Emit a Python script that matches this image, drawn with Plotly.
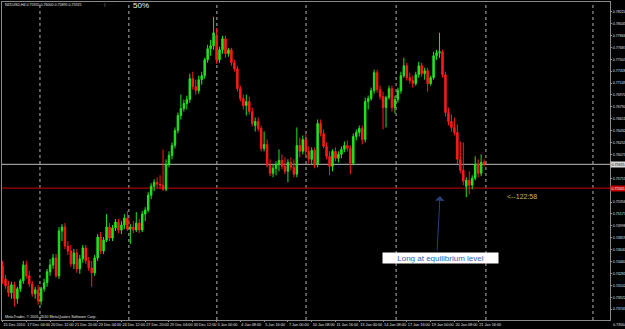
import plotly.graph_objects as go

symbol_header = "NZDUSD,H4 0.75955 0.76000 0.75895 0.75925"

opens = [0.74395,0.74200,0.74095,0.73990,0.74110,0.73900,0.74050,0.74170,0.74410,0.74245,
0.74125,0.73975,0.74035,0.73870,0.74050,0.74140,0.74305,0.74410,0.74515,0.74245,
0.74920,0.74980,0.74695,0.74620,0.74425,0.74590,0.74350,0.74500,0.74665,0.74470,
0.74365,0.74290,0.74515,0.74830,0.74620,0.74785,0.74980,0.74815,0.74965,0.75055,
0.74935,0.75010,0.75115,0.74950,0.74980,0.74935,0.75040,0.74935,0.75175,0.75235,
0.75460,0.75595,0.75655,0.75625,0.75610,0.75550,0.75925,0.76060,0.76210,0.76435,
0.76660,0.76765,0.76840,0.76900,0.77215,0.77095,0.77035,0.77200,0.77260,0.77500,
0.77665,0.77710,0.77860,0.77500,0.77650,0.77815,0.77590,0.77650,0.77455,0.77365,
0.77065,0.76915,0.76810,0.76870,0.76720,0.76510,0.76570,0.76465,0.76165,0.76225,
0.75910,0.75790,0.75865,0.75925,0.75985,0.75895,0.75820,0.75955,0.75880,0.75775,
0.76210,0.76120,0.76300,0.76120,0.76000,0.76135,0.75925,0.76540,0.76390,0.76195,
0.76045,0.75895,0.76120,0.76015,0.76075,0.76150,0.76210,0.76165,0.75940,0.76345,
0.76405,0.76465,0.76300,0.76870,0.76915,0.77035,0.77305,0.77050,0.76945,0.76780,
0.76930,0.77065,0.76780,0.76900,0.77035,0.77260,0.77410,0.77230,0.77185,0.77140,
0.77275,0.77410,0.77290,0.77335,0.77140,0.77230,0.77560,0.77605,0.77620,0.77275,
0.76705,0.76570,0.76480,0.76405,0.76000,0.75835,0.75595,0.75685,0.75610,0.75715,
0.75925,0.75790,0.75955]

highs = [0.74470,0.74260,0.74170,0.74155,0.74155,0.74080,0.74200,0.74470,0.74470,0.74320,
0.74170,0.74080,0.74110,0.74080,0.74200,0.74350,0.74500,0.74575,0.74575,0.74980,
0.75025,0.75040,0.74770,0.74710,0.74650,0.74650,0.74560,0.74710,0.74710,0.74530,
0.74470,0.74560,0.74875,0.74905,0.74830,0.75175,0.75040,0.75010,0.75100,0.75100,
0.75070,0.75175,0.75220,0.75025,0.75070,0.75205,0.75100,0.75220,0.75280,0.75505,
0.75640,0.75700,0.75730,0.75760,0.76150,0.76000,0.76120,0.76255,0.76480,0.76705,
0.76975,0.76900,0.76960,0.77290,0.77320,0.77200,0.77260,0.77320,0.77530,0.77725,
0.77800,0.78145,0.77980,0.77695,0.77860,0.77860,0.77680,0.77680,0.77500,0.77410,
0.77110,0.76975,0.76975,0.76945,0.76780,0.76630,0.76630,0.76510,0.76420,0.76300,
0.76000,0.75925,0.75970,0.76150,0.76075,0.76030,0.76000,0.76030,0.76000,0.76480,
0.76330,0.76360,0.76375,0.76195,0.76180,0.76180,0.76600,0.76600,0.76450,0.76255,
0.76120,0.76150,0.76180,0.76120,0.76195,0.76270,0.76285,0.76210,0.76390,0.76450,
0.76510,0.76510,0.76930,0.76960,0.77080,0.77350,0.77350,0.77110,0.77020,0.76960,
0.77110,0.77110,0.76960,0.77080,0.77320,0.77530,0.77455,0.77305,0.77260,0.77320,
0.77470,0.77455,0.77380,0.77380,0.77260,0.77620,0.77650,0.77905,0.77650,0.77320,
0.76780,0.76675,0.76630,0.76525,0.76270,0.76255,0.75730,0.75820,0.75760,0.76045,
0.76000,0.76075,0.76000]

lows = [0.74125,0.74050,0.73930,0.73900,0.73780,0.73825,0.74005,0.74125,0.74200,0.74080,
0.73930,0.73900,0.73810,0.73810,0.74005,0.74080,0.74245,0.74350,0.74215,0.74200,
0.74770,0.74650,0.74560,0.74380,0.74350,0.74290,0.74275,0.74440,0.74425,0.74320,
0.74080,0.74245,0.74470,0.74575,0.74575,0.74755,0.74770,0.74770,0.74920,0.74890,
0.74875,0.74950,0.74920,0.74725,0.74890,0.74905,0.74890,0.74905,0.75070,0.75205,
0.75400,0.75520,0.75565,0.75550,0.75520,0.75520,0.75880,0.76000,0.76165,0.76390,
0.76600,0.76720,0.76750,0.76855,0.77050,0.76975,0.76990,0.77125,0.77215,0.77455,
0.77560,0.77650,0.77440,0.77455,0.77590,0.77530,0.77545,0.77410,0.77320,0.77020,
0.76870,0.76750,0.76660,0.76675,0.76495,0.76420,0.76420,0.76120,0.76120,0.75880,
0.75745,0.75730,0.75760,0.75820,0.75850,0.75775,0.75655,0.75835,0.75730,0.75730,
0.76030,0.76075,0.76030,0.75940,0.75925,0.75865,0.75880,0.76345,0.76165,0.76000,
0.75760,0.75820,0.75970,0.75955,0.76015,0.76105,0.76120,0.75775,0.75910,0.76285,
0.76345,0.76225,0.76255,0.76750,0.76885,0.76990,0.77005,0.76900,0.76450,0.76480,
0.76900,0.76720,0.76690,0.76855,0.76990,0.77230,0.77185,0.77140,0.77080,0.77110,
0.77230,0.77245,0.77200,0.77020,0.77110,0.77200,0.77500,0.77530,0.77230,0.76645,
0.76510,0.76420,0.76360,0.75925,0.75790,0.75610,0.75430,0.75475,0.75550,0.75685,
0.75730,0.75745,0.75895]

closes = [0.74200,0.74095,0.73990,0.74110,0.73900,0.74050,0.74170,0.74410,0.74245,0.74125,
0.73975,0.74035,0.73870,0.74050,0.74140,0.74305,0.74410,0.74515,0.74245,0.74920,
0.74980,0.74695,0.74620,0.74425,0.74590,0.74350,0.74500,0.74665,0.74470,0.74365,
0.74290,0.74515,0.74830,0.74620,0.74785,0.74980,0.74815,0.74965,0.75055,0.74935,
0.75010,0.75115,0.74950,0.74980,0.74935,0.75040,0.74935,0.75175,0.75235,0.75460,
0.75595,0.75655,0.75625,0.75610,0.75550,0.75925,0.76060,0.76210,0.76435,0.76660,
0.76765,0.76840,0.76900,0.77215,0.77095,0.77035,0.77200,0.77260,0.77500,0.77665,
0.77710,0.77905,0.77500,0.77650,0.77815,0.77590,0.77650,0.77455,0.77365,0.77065,
0.76915,0.76810,0.76870,0.76720,0.76540,0.76570,0.76465,0.76165,0.76225,0.75910,
0.75790,0.75865,0.75925,0.75985,0.75895,0.75820,0.75955,0.75880,0.75775,0.76210,
0.76120,0.76300,0.76120,0.76000,0.76135,0.75910,0.76540,0.76390,0.76195,0.76045,
0.75895,0.76120,0.76015,0.76075,0.76150,0.76210,0.76165,0.75940,0.76345,0.76405,
0.76465,0.76300,0.76870,0.76915,0.77035,0.77305,0.77050,0.76945,0.76780,0.76930,
0.77065,0.76780,0.76900,0.77035,0.77260,0.77410,0.77230,0.77185,0.77140,0.77275,
0.77410,0.77290,0.77335,0.77140,0.77230,0.77560,0.77605,0.77620,0.77275,0.76705,
0.76570,0.76480,0.76405,0.76000,0.75835,0.75670,0.75685,0.75610,0.75715,0.75925,
0.75790,0.75955,0.75925]

time_label_bars = [0, 8, 16, 24, 32, 40, 48, 56, 64, 72, 80, 88, 96, 104, 112, 120, 128, 136, 144, 152, 160]
time_labels = ["15 Dec 2010", "17 Dec 04:00", "20 Dec 12:00", "21 Dec 20:00", "23 Dec 04:00",
               "24 Dec 12:00", "27 Dec 20:00", "29 Dec 04:00", "30 Dec 12:00", "3 Jan 00:00",
               "4 Jan 08:00", "5 Jan 16:00", "7 Jan 00:00", "10 Jan 08:00", "11 Jan 16:00",
               "13 Jan 00:00", "14 Jan 08:00", "17 Jan 16:00", "19 Jan 00:00", "20 Jan 08:00",
               "21 Jan 16:00"]
grid_bars = [12.6, 42.5, 72.1, 102.1, 132.4, 162.6, 198.6]

price_ticks = [0.78224, 0.78045, 0.77866, 0.77687, 0.77507, 0.77328, 0.77149, 0.76970, 0.76790,
               0.76611, 0.76432, 0.76253, 0.76073, 0.75715, 0.75356, 0.75177, 0.74998, 0.74819,
               0.74640, 0.74460, 0.74281, 0.74102, 0.73922, 0.73743]
bottom_price_label = "0.73564"
level_price = 0.75565
bid_price = closes[-1]
note_text = "Long at equilibrium level"
timer_text = "<--122:58"
copyright_text = "MetaTrader, \u00a9 2001-2010 MetaQuotes Software Corp."

x_range = [-0.17, 204.34]
y_range = [0.7358, 0.7837]

FONT = "Liberation Sans"
fig = go.Figure()
fig.add_trace(go.Candlestick(
    x=list(range(len(opens))), open=opens, high=highs, low=lows, close=closes,
    increasing=dict(line=dict(color="#1ee61e", width=1), fillcolor="#1ee61e"),
    decreasing=dict(line=dict(color="#ff1a1a", width=1), fillcolor="#ff1a1a"),
    whiskerwidth=0, showlegend=False, hoverinfo="skip",
))

for g in grid_bars:
    fig.add_vline(x=g, line=dict(color="#b4b4b4", width=1, dash="dot"), layer="below")
fig.add_hline(y=bid_price, line=dict(color="#bdbdbd", width=1), layer="below")
fig.add_hline(y=level_price, line=dict(color="#a50000", width=1.2), layer="below")

W, H = 625, 329
ml, mr, mt, mb = 2, 15, 2, 9
pw, ph = W - ml - mr, H - mt - mb

def px(xp):
    return (xp - ml) / pw

def py(yp):
    return (H - mb - yp) / ph

ann = []
ann.append(dict(text=symbol_header, xref="paper", yref="paper", x=px(3), y=py(4.5),
                xanchor="left", yanchor="middle", showarrow=False,
                font=dict(size=3.6, color="#e8e8e8", family=FONT)))
ann.append(dict(text="50%", xref="paper", yref="paper", x=px(131), y=py(5.5),
                xanchor="left", yanchor="middle", showarrow=False,
                font=dict(size=8, color="#f0f0f0", family=FONT)))
ann.append(dict(text="\u02d1 \u02d1 \u02d1 |\u02d1 \u02d1 \u02d1 \u02d1", xref="paper", yref="paper",
                x=px(95), y=py(5), xanchor="left", yanchor="middle", showarrow=False,
                font=dict(size=4.3, color="#b0b0b0", family=FONT)))
ann.append(dict(text=copyright_text, xref="paper", yref="paper", x=px(3), y=py(316.5),
                xanchor="left", yanchor="middle", showarrow=False,
                font=dict(size=3.8, color="#e0e0e0", family=FONT)))
ann.append(dict(text=bottom_price_label, xref="paper", yref="paper", x=1.0, xshift=1, y=py(324.5),
                xanchor="left", yanchor="middle", showarrow=False,
                font=dict(size=3.6, color="#e0e0e0", family=FONT)))
ann.append(dict(text=f"{bid_price:.5f}", xref="paper", yref="y", x=1.0, y=bid_price,
                xanchor="left", yanchor="middle", showarrow=False, bgcolor="#d8d8d8",
                borderpad=0.5, font=dict(size=3.6, color="#000000", family=FONT)))
ann.append(dict(text=f"{level_price:.5f}", xref="paper", yref="y", x=1.0, y=level_price,
                xanchor="left", yanchor="middle", showarrow=False, bgcolor="#c00000",
                borderpad=0.5, font=dict(size=3.6, color="#ffffff", family=FONT)))
ann.append(dict(text=note_text, xref="paper", yref="paper", x=px(440.5), y=py(257.5),
                xanchor="center", yanchor="middle", showarrow=False, bgcolor="#ffffff",
                width=114, height=9, borderpad=0.5,
                font=dict(size=8, color="#2a64b4", family=FONT)))
ann.append(dict(text="", xref="paper", yref="paper", x=px(440), y=py(196),
                ax=-3, ay=56, showarrow=True, arrowhead=1, arrowsize=1.6, arrowwidth=1,
                arrowcolor="#2c3e78"))
ann.append(dict(text=timer_text, xref="paper", yref="paper", x=px(505), y=py(196.5),
                xanchor="left", yanchor="middle", showarrow=False,
                font=dict(size=7, color="#cdbb5e", family=FONT)))

fig.update_layout(
    width=W, height=H, margin=dict(l=ml, r=mr, t=mt, b=mb),
    paper_bgcolor="#000000", plot_bgcolor="#000000",
    font=dict(family=FONT, color="#e0e0e0", size=3.6),
    showlegend=False, annotations=ann,
    xaxis=dict(range=x_range, rangeslider=dict(visible=False), showgrid=False, zeroline=False,
               tickmode="array", tickvals=time_label_bars, ticktext=time_labels, tickangle=0,
               ticklabelposition="outside right", ticks="outside", ticklen=1, tickcolor="#909090",
               tickfont=dict(size=3.8, color="#e0e0e0", family=FONT),
               showline=True, linecolor="#8a8a8a", linewidth=1, mirror=True, automargin=False),
    yaxis=dict(range=y_range, side="right", showgrid=False, zeroline=False,
               tickmode="array", tickvals=price_ticks, ticktext=[f"{v:.5f}" for v in price_ticks],
               ticks="outside", ticklen=1, tickcolor="#909090",
               tickfont=dict(size=3.6, color="#e0e0e0", family=FONT),
               showline=True, linecolor="#8a8a8a", linewidth=1, mirror=True, automargin=False),
)

fig.write_html("out.html")
